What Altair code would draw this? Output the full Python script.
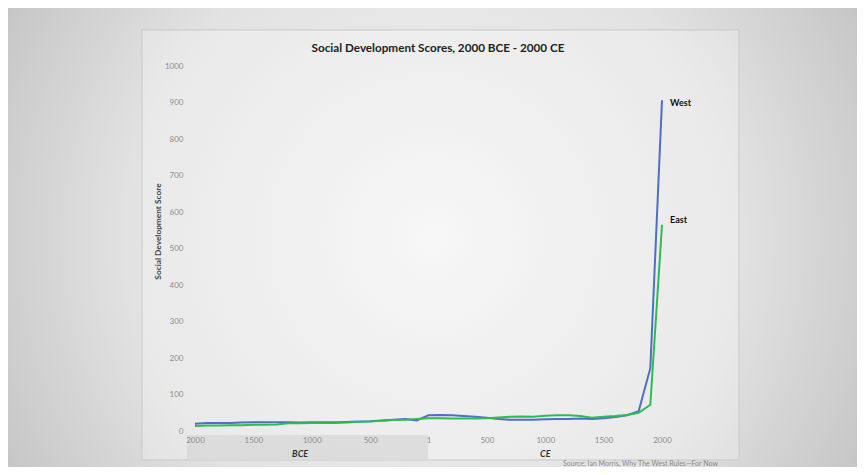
import altair as alt
import pandas as pd

# ---- data (Social Development Scores) ----
years = [-2000, -1900, -1800, -1700, -1600, -1500, -1400, -1300, -1200, -1100,
         -1000, -900, -800, -700, -600, -500, -400, -300, -200, -100,
         0, 100, 200, 300, 400, 500, 600, 700, 800, 900,
         1000, 1100, 1200, 1300, 1400, 1500, 1600, 1700, 1800, 1900, 2000]
west = [20, 22, 22, 22, 23, 24, 24, 24, 24, 23,
        24, 24, 24, 25, 26, 27, 29, 31, 33, 29,
        43, 44, 43, 41, 39, 36, 33, 31, 31, 31,
        32, 33, 33, 34, 33, 35, 38, 43, 54, 172, 906]
east = [14, 15, 15, 16, 16, 17, 17, 18, 21, 21,
        22, 22, 22, 23, 25, 26, 28, 30, 31, 33,
        35, 35, 34, 34, 34, 35, 37, 39, 40, 39,
        42, 43, 43, 41, 36, 39, 41, 44, 50, 72, 565]
series_names = ["West", "East"]
series_colors = ["#4f6fc2", "#2dbb55"]
x_ticks = [-2000, -1500, -1000, -500, 0, 500, 1000, 1500, 2000]
y_ticks = [0, 100, 200, 300, 400, 500, 600, 700, 800, 900, 1000]
era_labels = ["BCE", "CE"]
era_years = [-1100, 1000]
title_text = "Social Development Scores, 2000 BCE - 2000 CE"
source_text = "Source: Ian Morris, Why The West Rules\u2014For Now"

rows = []
for y, w, e in zip(years, west, east):
    rows.append({"year": y, "score": w, "region": "West"})
    rows.append({"year": y, "score": e, "region": "East"})
df = pd.DataFrame(rows)
era_df = pd.DataFrame({"year": era_years, "label": era_labels})

W, H = 467, 365
PL, PT, PR, PB = 187, 58, 195, 36
FONT = "Lato"

xscale = alt.Scale(domain=[-2000, 2000], nice=False, zero=False)
yscale = alt.Scale(domain=[0, 1000], nice=False)
cscale = alt.Scale(domain=series_names, range=series_colors)

X_ENC = alt.X("year:Q", scale=xscale,
              axis=alt.Axis(values=x_ticks, title="", grid=False, ticks=False, domain=False,
                            labelExpr="datum.value == 0 ? '1' : format(abs(datum.value), 'd')",
                            labelFont=FONT, labelFontSize=8, labelColor="#8c8c8c",
                            labelPadding=5, labelOverlap=False, labelFlush=False, zindex=1))
Y_ENC = alt.Y("score:Q", scale=yscale,
              axis=alt.Axis(values=y_ticks, format="d", grid=False, ticks=False, domain=False,
                            labelFont=FONT, labelFontSize=8, labelColor="#8c8c8c",
                            labelPadding=12, labelOverlap=False, labelFlush=False, zindex=1,
                            title="Social Development Score", titleFont=FONT,
                            titleFontSize=8.3, titleFontWeight="bold", titleColor="#444",
                            titleX=-37, titleY=165, titleAlign="center",
                            titleBaseline="middle"))

one = pd.DataFrame({"a": [0]})

# decorative backgrounds
bg = alt.Chart(one).mark_rect(
    fill=alt.RadialGradient(
        gradient="radial", x1=0.5, y1=0.5, r1=0, x2=0.5, y2=0.5, r2=0.72,
        stops=[alt.GradientStop(offset=0, color="#f4f4f4"),
               alt.GradientStop(offset=0.5, color="#e2e2e2"),
               alt.GradientStop(offset=1, color="#b2b2b2")])
).encode(x=alt.value(-PL), x2=alt.value(W + PR), y=alt.value(-PT), y2=alt.value(H + PB))

panel = alt.Chart(one).mark_rect(
    fill="#ffffff", fillOpacity=0.25, stroke="#c9c9c9", strokeWidth=1
).encode(x=alt.value(-53), x2=alt.value(544), y=alt.value(-36), y2=alt.value(394))

bce_band = alt.Chart(one).mark_rect(
    fill="#d6d6d6", fillOpacity=0.7
).encode(x=alt.value(-8), x2=alt.value(233), y=alt.value(369), y2=alt.value(393))

base = alt.Chart(df)

lines = base.mark_line(strokeWidth=2).encode(
    x=X_ENC, y=Y_ENC,
    color=alt.Color("region:N", scale=cscale, legend=None),
    detail="region:N",
)

west_lab = base.transform_filter("datum.year == 2000 && datum.region == 'West'").mark_text(
    align="left", baseline="middle", dx=8, dy=3, font=FONT, fontSize=9,
    fontWeight="bold", color="#111"
).encode(x=X_ENC, y=Y_ENC, text="region:N")

east_lab = base.transform_filter("datum.year == 2000 && datum.region == 'East'").mark_text(
    align="left", baseline="middle", dx=8, dy=-5, font=FONT, fontSize=9,
    fontWeight="bold", color="#111"
).encode(x=X_ENC, y=Y_ENC, text="region:N")

era_text = alt.Chart(era_df).mark_text(
    font=FONT, fontSize=9, fontWeight="bold", fontStyle="italic", color="#333",
    baseline="middle"
).encode(x=X_ENC, y=alt.value(388), text="label:N")

title = alt.Chart(pd.DataFrame({"t": [title_text]})).mark_text(
    font=FONT, fontSize=11.7, fontWeight="bold", color="#222", align="center",
    baseline="middle"
).encode(x=alt.value(243), y=alt.value(-18), text="t:N")

source = alt.Chart(pd.DataFrame({"t": [source_text]})).mark_text(
    font=FONT, fontSize=7, color="#8a8a8a", align="left", baseline="middle"
).encode(x=alt.value(368), y=alt.value(398), text="t:N")

chart = alt.layer(bg, panel, bce_band, lines, west_lab, east_lab, era_text, title, source).properties(
    width=W, height=H,
    autosize=alt.AutoSizeParams(type="none"),
    padding={"left": PL, "top": PT, "right": PR, "bottom": PB},
).configure_view(stroke=None).configure(background="#d0d0d0")

chart.save("out.html", embed_options={"renderer": "svg", "actions": False})
